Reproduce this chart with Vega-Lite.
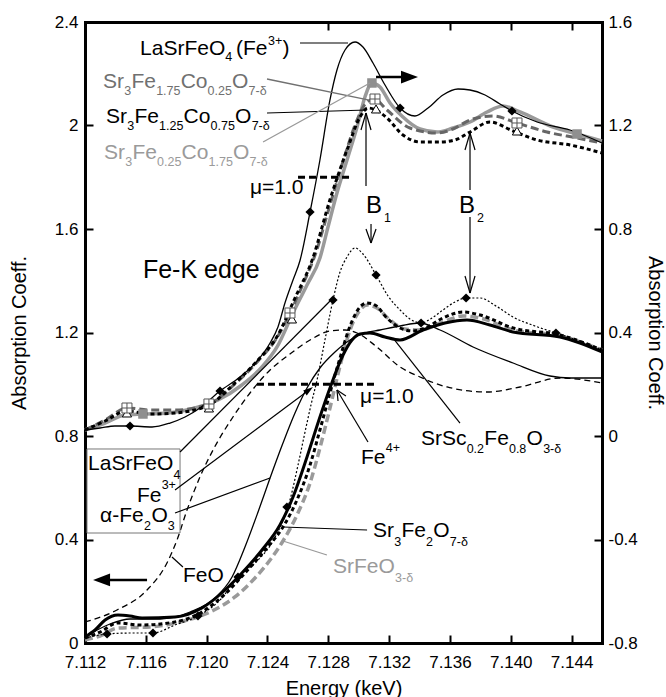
{
"$schema":"https://vega.github.io/schema/vega-lite/v6.json",
"width":517,"height":621,"autosize":"none",
"padding":{"left":85,"top":22,"right":64,"bottom":54},
"config":{"view":{"stroke":null},"font":"Liberation Sans","text":{"font":"Liberation Sans"}},
"datasets":{
"ula":[{"x":7.112,"y":0.8232},{"x":7.11299,"y":0.8309},{"x":7.11397,"y":0.8386},{"x":7.11496,"y":0.8386},{"x":7.11641,"y":0.8348},{"x":7.11759,"y":0.8502},{"x":7.11858,"y":0.8734},{"x":7.11956,"y":0.9082},{"x":7.12088,"y":0.9739},{"x":7.12219,"y":1.028},{"x":7.12338,"y":1.0937},{"x":7.12417,"y":1.1594},{"x":7.12469,"y":1.2213},{"x":7.12515,"y":1.314},{"x":7.12568,"y":1.4029},{"x":7.12614,"y":1.4783},{"x":7.1268,"y":1.6657},{"x":7.12745,"y":1.8667},{"x":7.12811,"y":2.0986},{"x":7.12857,"y":2.2145},{"x":7.1291,"y":2.2918},{"x":7.12976,"y":2.3227},{"x":7.13028,"y":2.3034},{"x":7.13094,"y":2.2415},{"x":7.13173,"y":2.1565},{"x":7.13272,"y":2.0676},{"x":7.1337,"y":2.0367},{"x":7.13456,"y":2.0676},{"x":7.13554,"y":2.1179},{"x":7.13653,"y":2.1411},{"x":7.13732,"y":2.1372},{"x":7.13831,"y":2.1179},{"x":7.13929,"y":2.0831},{"x":7.14008,"y":2.056},{"x":7.14173,"y":2.0135},{"x":7.1439,"y":1.9826},{"x":7.146,"y":1.9324}],
"ugs":[{"x":7.112,"y":0.8232},{"x":7.11332,"y":0.8502},{"x":7.11463,"y":0.8812},{"x":7.11581,"y":0.885},{"x":7.11746,"y":0.8889},{"x":7.11923,"y":0.9082},{"x":7.12075,"y":0.9391},{"x":7.12232,"y":0.9971},{"x":7.12364,"y":1.0667},{"x":7.12463,"y":1.144},{"x":7.12568,"y":1.2754},{"x":7.1266,"y":1.3836},{"x":7.12745,"y":1.4879},{"x":7.12798,"y":1.6077},{"x":7.12857,"y":1.7391},{"x":7.12923,"y":1.8667},{"x":7.12989,"y":1.9942},{"x":7.13041,"y":2.1101},{"x":7.13087,"y":2.1643},{"x":7.1314,"y":2.1488},{"x":7.13206,"y":2.087},{"x":7.13291,"y":2.0329},{"x":7.13403,"y":1.9865},{"x":7.13515,"y":1.9749},{"x":7.1362,"y":1.9903},{"x":7.13732,"y":2.0135},{"x":7.13844,"y":2.0522},{"x":7.13949,"y":2.0754},{"x":7.14061,"y":2.0522},{"x":7.14278,"y":1.9942},{"x":7.14436,"y":1.9671},{"x":7.146,"y":1.9401}],
"ugd":[{"x":7.112,"y":0.8232},{"x":7.11332,"y":0.8618},{"x":7.11476,"y":0.9082},{"x":7.11627,"y":0.9005},{"x":7.11792,"y":0.9005},{"x":7.12015,"y":0.9237},{"x":7.12186,"y":1.001},{"x":7.12338,"y":1.0899},{"x":7.12469,"y":1.1865},{"x":7.12548,"y":1.2754},{"x":7.12634,"y":1.3874},{"x":7.12713,"y":1.4995},{"x":7.12811,"y":1.6928},{"x":7.1291,"y":1.886},{"x":7.12989,"y":2.0213},{"x":7.13048,"y":2.087},{"x":7.13101,"y":2.1024},{"x":7.13186,"y":2.0599},{"x":7.13337,"y":1.9903},{"x":7.13515,"y":1.971},{"x":7.1362,"y":1.9865},{"x":7.13732,"y":2.0213},{"x":7.13883,"y":2.0367},{"x":7.14041,"y":2.0097},{"x":7.14238,"y":1.9749},{"x":7.14436,"y":1.9517},{"x":7.146,"y":1.9324}],
"ubd":[{"x":7.112,"y":0.8232},{"x":7.11332,"y":0.858},{"x":7.11476,"y":0.8966},{"x":7.11627,"y":0.885},{"x":7.11792,"y":0.8889},{"x":7.12015,"y":0.9198},{"x":7.12186,"y":1.0048},{"x":7.12338,"y":1.0937},{"x":7.12469,"y":1.1903},{"x":7.12581,"y":1.3333},{"x":7.12693,"y":1.4783},{"x":7.12811,"y":1.713},{"x":7.12923,"y":1.9053},{"x":7.13009,"y":2.0329},{"x":7.13061,"y":2.0676},{"x":7.13114,"y":2.0599},{"x":7.13186,"y":2.029},{"x":7.13291,"y":1.9633},{"x":7.13403,"y":1.9362},{"x":7.13535,"y":1.9362},{"x":7.13633,"y":1.944},{"x":7.13732,"y":1.9749},{"x":7.13863,"y":2.0135},{"x":7.14015,"y":1.9787},{"x":7.14173,"y":1.944},{"x":7.1439,"y":1.9246},{"x":7.146,"y":1.8937}],
"lla":[{"x":7.112,"y":0.0193},{"x":7.11345,"y":0.0348},{"x":7.11496,"y":0.0386},{"x":7.11647,"y":0.0386},{"x":7.11792,"y":0.0696},{"x":7.11943,"y":0.1043},{"x":7.12088,"y":0.1662},{"x":7.12206,"y":0.2551},{"x":7.12318,"y":0.3092},{"x":7.12436,"y":0.3942},{"x":7.12548,"y":0.5527},{"x":7.12601,"y":0.6879},{"x":7.12647,"y":0.8155},{"x":7.12686,"y":0.9198},{"x":7.12726,"y":1.0164},{"x":7.12778,"y":1.171},{"x":7.12831,"y":1.3256},{"x":7.12877,"y":1.4338},{"x":7.12923,"y":1.4918},{"x":7.12976,"y":1.5266},{"x":7.13028,"y":1.5034},{"x":7.13114,"y":1.4222},{"x":7.13193,"y":1.3411},{"x":7.13272,"y":1.287},{"x":7.13337,"y":1.2522},{"x":7.1341,"y":1.2367},{"x":7.13482,"y":1.256},{"x":7.13554,"y":1.287},{"x":7.13633,"y":1.3179},{"x":7.13706,"y":1.3333},{"x":7.13798,"y":1.3333},{"x":7.13903,"y":1.3024},{"x":7.14015,"y":1.2599},{"x":7.14159,"y":1.2251},{"x":7.14297,"y":1.1981},{"x":7.14455,"y":1.1671},{"x":7.146,"y":1.1324}],
"lfe":[{"x":7.112,"y":0.0232},{"x":7.11364,"y":0.0734},{"x":7.11496,"y":0.0928},{"x":7.11693,"y":0.0928},{"x":7.11891,"y":0.1198},{"x":7.12055,"y":0.1739},{"x":7.12167,"y":0.2551},{"x":7.12252,"y":0.371},{"x":7.12338,"y":0.5063},{"x":7.12417,"y":0.6377},{"x":7.12502,"y":0.7729},{"x":7.12581,"y":0.8889},{"x":7.1266,"y":0.9855},{"x":7.12745,"y":1.0628},{"x":7.12844,"y":1.1246},{"x":7.12943,"y":1.171},{"x":7.13041,"y":1.1981},{"x":7.1314,"y":1.2097},{"x":7.13272,"y":1.2251},{"x":7.13403,"y":1.2367},{"x":7.13535,"y":1.2097},{"x":7.13752,"y":1.144},{"x":7.14015,"y":1.0821},{"x":7.14258,"y":1.0319},{"x":7.1439,"y":1.0242},{"x":7.146,"y":1.0242}],
"lfeo":[{"x":7.112,"y":0.0812},{"x":7.1141,"y":0.1275},{"x":7.11608,"y":0.2048},{"x":7.11739,"y":0.3092},{"x":7.11805,"y":0.3981},{"x":7.11871,"y":0.514},{"x":7.11956,"y":0.6415},{"x":7.12042,"y":0.7459},{"x":7.12173,"y":0.8734},{"x":7.12285,"y":0.9662},{"x":7.12417,"y":1.0551},{"x":7.12548,"y":1.1169},{"x":7.1268,"y":1.171},{"x":7.12811,"y":1.2058},{"x":7.1291,"y":1.2097},{"x":7.12989,"y":1.1981},{"x":7.1312,"y":1.144},{"x":7.13272,"y":1.0667},{"x":7.13403,"y":1.028},{"x":7.13581,"y":0.9894},{"x":7.13844,"y":0.97},{"x":7.14061,"y":0.9894},{"x":7.14324,"y":1.0242},{"x":7.146,"y":1.0048}],
"lsc":[{"x":7.112,"y":0.0232},{"x":7.11266,"y":0.0502},{"x":7.11332,"y":0.0889},{"x":7.11417,"y":0.1082},{"x":7.11496,"y":0.1043},{"x":7.11575,"y":0.0966},{"x":7.11792,"y":0.1005},{"x":7.11969,"y":0.1353},{"x":7.12121,"y":0.2048},{"x":7.12232,"y":0.2705},{"x":7.12364,"y":0.3594},{"x":7.12482,"y":0.456},{"x":7.12568,"y":0.5643},{"x":7.1266,"y":0.7188},{"x":7.12745,"y":0.8734},{"x":7.12811,"y":0.9855},{"x":7.12897,"y":1.113},{"x":7.12956,"y":1.171},{"x":7.13009,"y":1.1942},{"x":7.13074,"y":1.1981},{"x":7.13173,"y":1.1826},{"x":7.13272,"y":1.171},{"x":7.13423,"y":1.2097},{"x":7.13567,"y":1.2367},{"x":7.13712,"y":1.2483},{"x":7.13863,"y":1.229},{"x":7.14015,"y":1.2019},{"x":7.14324,"y":1.1826},{"x":7.14455,"y":1.1594},{"x":7.146,"y":1.1246}],
"l327":[{"x":7.112,"y":0.0193},{"x":7.11299,"y":0.0425},{"x":7.11417,"y":0.0773},{"x":7.11562,"y":0.0696},{"x":7.11792,"y":0.0812},{"x":7.11969,"y":0.1198},{"x":7.12121,"y":0.1894},{"x":7.12252,"y":0.2705},{"x":7.12384,"y":0.3594},{"x":7.12502,"y":0.4483},{"x":7.12594,"y":0.5527},{"x":7.1268,"y":0.6879},{"x":7.12745,"y":0.8232},{"x":7.12811,"y":0.9662},{"x":7.12877,"y":1.1014},{"x":7.12943,"y":1.2251},{"x":7.13009,"y":1.2986},{"x":7.13055,"y":1.314},{"x":7.13107,"y":1.3063},{"x":7.13186,"y":1.256},{"x":7.13272,"y":1.2174},{"x":7.13357,"y":1.2058},{"x":7.13436,"y":1.2174},{"x":7.13567,"y":1.2599},{"x":7.13686,"y":1.2792},{"x":7.13798,"y":1.2676},{"x":7.14015,"y":1.2174},{"x":7.14324,"y":1.1903},{"x":7.146,"y":1.1324}],
"lsr":[{"x":7.112,"y":0.0116},{"x":7.11299,"y":0.0271},{"x":7.11417,"y":0.058},{"x":7.11627,"y":0.0618},{"x":7.11825,"y":0.0812},{"x":7.12022,"y":0.1198},{"x":7.12186,"y":0.1778},{"x":7.12318,"y":0.2512},{"x":7.12417,"y":0.3208},{"x":7.12502,"y":0.3942},{"x":7.12594,"y":0.4947},{"x":7.1268,"y":0.6184},{"x":7.12745,"y":0.7536},{"x":7.12811,"y":0.9082},{"x":7.12877,"y":1.0705},{"x":7.12943,"y":1.2097},{"x":7.13009,"y":1.287},{"x":7.13055,"y":1.3063},{"x":7.1312,"y":1.2947},{"x":7.13206,"y":1.2483},{"x":7.13304,"y":1.2135},{"x":7.13403,"y":1.2097},{"x":7.13567,"y":1.2444},{"x":7.13686,"y":1.2638},{"x":7.13798,"y":1.256},{"x":7.14015,"y":1.2097},{"x":7.14324,"y":1.1865},{"x":7.146,"y":1.1324}],
"mk":[{"k":"dia","x":7.11496,"y":0.8386},{"k":"dia","x":7.12088,"y":0.9739},{"k":"dia","x":7.1268,"y":1.6657},{"k":"dia","x":7.13272,"y":2.0676},{"k":"dia","x":7.14008,"y":2.056},
{"k":"dia","x":7.11345,"y":0.0348},{"k":"dia","x":7.11647,"y":0.0386},{"k":"dia","x":7.11943,"y":0.1043},{"k":"dia","x":7.12206,"y":0.2551},{"k":"dia","x":7.12528,"y":0.5256},{"k":"dia","x":7.12831,"y":1.3256},{"k":"dia","x":7.13114,"y":1.4222},{"k":"dia","x":7.1341,"y":1.2367},{"k":"dia","x":7.13706,"y":1.3333},{"k":"dia","x":7.14297,"y":1.1981},
{"k":"sq","x":7.11581,"y":0.885},{"k":"sq","x":7.13087,"y":2.1643},{"k":"sq","x":7.14436,"y":1.9671},
{"k":"tri","x":7.11476,"y":0.8889},{"k":"tri","x":7.12015,"y":0.9082},{"k":"tri","x":7.12561,"y":1.2522},{"k":"tri","x":7.13114,"y":2.0638},{"k":"tri","x":7.14041,"y":1.9787},
{"k":"grid","x":7.11476,"y":0.9082},{"k":"grid","x":7.12015,"y":0.9237},{"k":"grid","x":7.12548,"y":1.2754},{"k":"grid","x":7.13107,"y":2.1024},{"k":"grid","x":7.14041,"y":2.0097}],
"rl":[{"k":"bk","x":7.12614,"y":2.3188,"x2":7.1293,"y2":2.3188},
{"k":"bk","x":7.12397,"y":2.0483,"x2":7.13055,"y2":2.0599},
{"k":"bk","x":7.11825,"y":0.7382,"x2":7.12831,"y2":1.3333},
{"k":"bk","x":7.11792,"y":0.5913,"x2":7.12647,"y2":0.9662},
{"k":"bk","x":7.11792,"y":0.5024,"x2":7.12417,"y2":0.6377},
{"k":"bk","x":7.11772,"y":0.3324,"x2":7.11844,"y2":0.2937},
{"k":"bk","x":7.13061,"y":0.7768,"x2":7.12857,"y2":0.9778},
{"k":"bk","x":7.12857,"y":0.9778,"x2":7.12864,"y2":0.9353},
{"k":"bk","x":7.12857,"y":0.9778,"x2":7.12916,"y2":0.9546},
{"k":"bk","x":7.13666,"y":0.8502,"x2":7.13226,"y2":1.1787},
{"k":"bk","x":7.13055,"y":0.4367,"x2":7.12502,"y2":0.4483},
{"k":"bk","x":7.13048,"y":1.7662,"x2":7.13048,"y2":2.0483},
{"k":"bk","x":7.13048,"y":2.0483,"x2":7.13015,"y2":1.9826},
{"k":"bk","x":7.13048,"y":2.0483,"x2":7.13081,"y2":1.9826},
{"k":"bk","x":7.13081,"y":1.6193,"x2":7.13081,"y2":1.5459},
{"k":"bk","x":7.13048,"y":1.6,"x2":7.13081,"y2":1.5459},
{"k":"bk","x":7.13114,"y":1.6,"x2":7.13081,"y2":1.5459},
{"k":"bk","x":7.13732,"y":1.7507,"x2":7.13732,"y2":1.971},
{"k":"bk","x":7.13732,"y":1.971,"x2":7.13699,"y2":1.9053},
{"k":"bk","x":7.13732,"y":1.971,"x2":7.13765,"y2":1.9053},
{"k":"bk","x":7.13732,"y":1.6464,"x2":7.13732,"y2":1.3527},
{"k":"bk","x":7.13699,"y":1.4184,"x2":7.13732,"y2":1.3527},
{"k":"bk","x":7.13765,"y":1.4184,"x2":7.13732,"y2":1.3527},
{"k":"g1","x":7.12397,"y":2.1797,"x2":7.13061,"y2":2.0986},
{"k":"g2","x":7.12371,"y":1.9362,"x2":7.13074,"y2":2.1643},
{"k":"g2","x":7.12791,"y":0.3401,"x2":7.12502,"y2":0.3942},
{"k":"mu","x":7.12601,"y":1.8,"x2":7.12956,"y2":1.8},
{"k":"mu","x":7.12331,"y":1.0,"x2":7.1312,"y2":1.0},
{"k":"arr","x":7.13114,"y":2.1874,"x2":7.13304,"y2":2.1874},
{"k":"arr","x":7.11332,"y":0.2435,"x2":7.11608,"y2":0.2435}],
"hd":[{"k":"r","x":7.13334,"y":2.1874},{"k":"l","x":7.11309,"y":0.2435},{"k":"f","x":7.12673,"y":0.9778}],
"bx":[{"x":7.11213,"y":0.7498,"x2":7.11825,"y2":0.4251}],
"tx":[{"k":"m","x":7.11562,"y":2.2725,"t":"LaSrFeO"},{"k":"m","x":7.12193,"y":2.2725,"t":"(Fe"},{"k":"m","x":7.12499,"y":2.2725,"t":")"},
{"k":"m","x":7.11338,"y":2.0097,"t":"Sr"},{"k":"m","x":7.11525,"y":2.0097,"t":"Fe"},{"k":"m","x":7.11848,"y":2.0097,"t":"Co"},{"k":"m","x":7.12187,"y":2.0097,"t":"O"},
{"k":"m","x":7.1122,"y":0.6686,"t":"LaSrFeO"},{"k":"m","x":7.11542,"y":0.5449,"t":"Fe"},{"k":"m","x":7.11299,"y":0.4676,"t":"α-Fe"},{"k":"m","x":7.11637,"y":0.4676,"t":"O"},
{"k":"m","x":7.11844,"y":0.2357,"t":"FeO"},{"k":"m","x":7.13015,"y":0.6918,"t":"Fe"},
{"k":"m","x":7.1341,"y":0.7652,"t":"SrSc"},{"k":"m","x":7.13826,"y":0.7652,"t":"Fe"},{"k":"m","x":7.14104,"y":0.7652,"t":"O"},
{"k":"m","x":7.13094,"y":0.4097,"t":"Sr"},{"k":"m","x":7.13281,"y":0.4097,"t":"Fe"},{"k":"m","x":7.13491,"y":0.4097,"t":"O"},
{"k":"m","x":7.12285,"y":1.7353,"t":"μ=1.0"},{"k":"m","x":7.13009,"y":0.9275,"t":"μ=1.0"},
{"k":"s","x":7.12123,"y":2.2493,"t":"4"},{"k":"s","x":7.12403,"y":2.3111,"t":"3+"},
{"k":"s","x":7.11478,"y":1.9826,"t":"3"},{"k":"s","x":7.11687,"y":1.9826,"t":"1.25"},{"k":"s","x":7.12026,"y":1.9826,"t":"0.75"},{"k":"s","x":7.12296,"y":1.9826,"t":"7-δ"},
{"k":"s","x":7.11782,"y":0.6338,"t":"4"},{"k":"s","x":7.11704,"y":0.5952,"t":"3+"},{"k":"s","x":7.11588,"y":0.4367,"t":"2"},{"k":"s","x":7.11745,"y":0.4367,"t":"3"},
{"k":"s","x":7.13178,"y":0.7382,"t":"4+"},
{"k":"s","x":7.1371,"y":0.7343,"t":"0.2"},{"k":"s","x":7.13988,"y":0.7343,"t":"0.8"},{"k":"s","x":7.14213,"y":0.7343,"t":"3-δ"},
{"k":"s","x":7.13233,"y":0.3749,"t":"3"},{"k":"s","x":7.13443,"y":0.3749,"t":"2"},{"k":"s","x":7.13599,"y":0.3749,"t":"7-δ"},
{"k":"s","x":7.13166,"y":1.6271,"t":"1"},{"k":"s","x":7.13778,"y":1.6271,"t":"2"},
{"k":"g1m","x":7.11318,"y":2.1449,"t":"Sr"},{"k":"g1m","x":7.11505,"y":2.1449,"t":"Fe"},{"k":"g1m","x":7.11829,"y":2.1449,"t":"Co"},{"k":"g1m","x":7.12167,"y":2.1449,"t":"O"},
{"k":"g1s","x":7.11458,"y":2.1179,"t":"3"},{"k":"g1s","x":7.11668,"y":2.1179,"t":"1.75"},{"k":"g1s","x":7.12006,"y":2.1179,"t":"0.25"},{"k":"g1s","x":7.12276,"y":2.1179,"t":"7-δ"},
{"k":"g2m","x":7.11325,"y":1.8705,"t":"Sr"},{"k":"g2m","x":7.11512,"y":1.8705,"t":"Fe"},{"k":"g2m","x":7.11835,"y":1.8705,"t":"Co"},{"k":"g2m","x":7.12174,"y":1.8705,"t":"O"},{"k":"g2m","x":7.12831,"y":0.2705,"t":"SrFeO"},
{"k":"g2s","x":7.11464,"y":1.8435,"t":"3"},{"k":"g2s","x":7.11674,"y":1.8435,"t":"0.25"},{"k":"g2s","x":7.12013,"y":1.8435,"t":"1.75"},{"k":"g2s","x":7.12282,"y":1.8435,"t":"7-δ"},{"k":"g2s","x":7.13239,"y":0.2357,"t":"3-δ"},
{"k":"big","x":7.11581,"y":1.4106,"t":"Fe-K edge"},
{"k":"b","x":7.13048,"y":1.6618,"t":"B"},{"k":"b","x":7.13659,"y":1.6618,"t":"B"}]
},
"layer":[
{"encoding":{
"x":{"field":"x","type":"quantitative","scale":{"domain":[7.112,7.146],"nice":false,"zero":false},"axis":{"orient":"bottom","values":[7.112,7.116,7.12,7.124,7.128,7.132,7.136,7.14,7.144],"format":".3f","title":"Energy (keV)","grid":false,"labelFlush":false,"labelOverlap":false,"labelFontSize":17,"labelFont":"Liberation Sans","labelColor":"black","labelPadding":19,"tickSize":-8,"tickWidth":2,"tickColor":"black","domainWidth":3,"domainColor":"black","domainCap":"square","titleFontSize":20,"titleFont":"Liberation Sans","titleFontWeight":"normal","titleColor":"black","titleY":45,"titleBaseline":"middle"}},
"y":{"field":"y","type":"quantitative","scale":{"domain":[0,2.4],"nice":false,"zero":false},"axis":{"orient":"left","values":[0,0.4,0.8,1.2,1.6,2,2.4],"format":"~g","title":"Absorption Coeff.","grid":false,"labelFlush":false,"labelOverlap":false,"labelFontSize":17,"labelFont":"Liberation Sans","labelColor":"black","labelPadding":15,"tickSize":-8,"tickWidth":2,"tickColor":"black","domainWidth":3,"domainColor":"black","domainCap":"square","titleFontSize":20,"titleFont":"Liberation Sans","titleFontWeight":"normal","titleColor":"black","titleX":-66,"titleBaseline":"middle"}}},
"layer":[
{"data":{"name":"lsr"},"mark":{"type":"line","color":"#9a9a9a","strokeWidth":3.5,"strokeDash":[8,4],"interpolate":"monotone"},"encoding":{}},
{"data":{"name":"l327"},"mark":{"type":"line","color":"black","strokeWidth":3,"strokeDash":[4,3],"interpolate":"monotone"},"encoding":{}},
{"data":{"name":"lsc"},"mark":{"type":"line","color":"black","strokeWidth":3,"interpolate":"monotone"},"encoding":{}},
{"data":{"name":"lla"},"mark":{"type":"line","color":"black","strokeWidth":1.2,"strokeDash":[2,2],"interpolate":"monotone"},"encoding":{}},
{"data":{"name":"lfe"},"mark":{"type":"line","color":"black","strokeWidth":1.3,"interpolate":"monotone"},"encoding":{}},
{"data":{"name":"lfeo"},"mark":{"type":"line","color":"black","strokeWidth":1.3,"strokeDash":[6,4],"interpolate":"monotone"},"encoding":{}},
{"data":{"name":"ugs"},"mark":{"type":"line","color":"#9a9a9a","strokeWidth":3.5,"interpolate":"monotone"},"encoding":{}},
{"data":{"name":"ugd"},"mark":{"type":"line","color":"#666666","strokeWidth":3,"strokeDash":[8,4],"interpolate":"monotone"},"encoding":{}},
{"data":{"name":"ubd"},"mark":{"type":"line","color":"black","strokeWidth":3,"strokeDash":[4,3],"interpolate":"monotone"},"encoding":{}},
{"data":{"name":"ula"},"mark":{"type":"line","color":"black","strokeWidth":1.3,"interpolate":"monotone"},"encoding":{}},
{"data":{"name":"mk"},"transform":[{"filter":"datum.k==='dia'"}],"mark":{"type":"point","shape":"diamond","filled":true,"color":"black","size":85,"opacity":1},"encoding":{}},
{"data":{"name":"mk"},"transform":[{"filter":"datum.k==='sq'"}],"mark":{"type":"point","shape":"square","filled":true,"color":"#8f8f8f","size":90,"opacity":1},"encoding":{}},
{"data":{"name":"mk"},"transform":[{"filter":"datum.k==='tri'"}],"mark":{"type":"point","shape":"triangle-up","filled":true,"fill":"white","stroke":"black","strokeWidth":1,"size":85,"opacity":1},"encoding":{}},
{"data":{"name":"mk"},"transform":[{"filter":"datum.k==='grid'"}],"mark":{"type":"point","shape":"M-1,-1H1V1H-1Z M0,-1V1 M-1,0H1","filled":true,"fill":"white","stroke":"#555555","strokeWidth":1,"size":100,"opacity":1},"encoding":{}},
{"data":{"name":"bx"},"mark":{"type":"rect","fill":"white","fillOpacity":0,"stroke":"#777777","strokeWidth":1},"encoding":{"x2":{"field":"x2"},"y2":{"field":"y2"}}},
{"data":{"name":"rl"},"transform":[{"filter":"datum.k==='bk'"}],"mark":{"type":"rule","color":"black","strokeWidth":1.2},"encoding":{"x2":{"field":"x2"},"y2":{"field":"y2"}}},
{"data":{"name":"rl"},"transform":[{"filter":"datum.k==='g1'"}],"mark":{"type":"rule","color":"#707070","strokeWidth":1.3},"encoding":{"x2":{"field":"x2"},"y2":{"field":"y2"}}},
{"data":{"name":"rl"},"transform":[{"filter":"datum.k==='g2'"}],"mark":{"type":"rule","color":"#999999","strokeWidth":1.3},"encoding":{"x2":{"field":"x2"},"y2":{"field":"y2"}}},
{"data":{"name":"rl"},"transform":[{"filter":"datum.k==='mu'"}],"mark":{"type":"rule","color":"black","strokeWidth":3,"strokeDash":[7,4]},"encoding":{"x2":{"field":"x2"},"y2":{"field":"y2"}}},
{"data":{"name":"rl"},"transform":[{"filter":"datum.k==='arr'"}],"mark":{"type":"rule","color":"black","strokeWidth":2.5},"encoding":{"x2":{"field":"x2"},"y2":{"field":"y2"}}},
{"data":{"name":"hd"},"transform":[{"filter":"datum.k==='r'"}],"mark":{"type":"point","shape":"M1,0L-1,-0.75L-1,0.75Z","filled":true,"color":"black","size":289,"opacity":1},"encoding":{}},
{"data":{"name":"hd"},"transform":[{"filter":"datum.k==='l'"}],"mark":{"type":"point","shape":"M-1,0L1,-0.75L1,0.75Z","filled":true,"color":"black","size":289,"opacity":1},"encoding":{}},
{"data":{"name":"hd"},"transform":[{"filter":"datum.k==='f'"}],"mark":{"type":"point","shape":"M1,0L-1,-0.6L-1,0.6Z","filled":true,"color":"black","size":100,"angle":-36.5,"opacity":1},"encoding":{}},
{"data":{"name":"tx"},"transform":[{"filter":"datum.k==='m'"}],"mark":{"type":"text","align":"left","baseline":"alphabetic","fontSize":21,"color":"black"},"encoding":{"text":{"field":"t"}}},
{"data":{"name":"tx"},"transform":[{"filter":"datum.k==='s'"}],"mark":{"type":"text","align":"left","baseline":"alphabetic","fontSize":12.5,"color":"black"},"encoding":{"text":{"field":"t"}}},
{"data":{"name":"tx"},"transform":[{"filter":"datum.k==='g1m'"}],"mark":{"type":"text","align":"left","baseline":"alphabetic","fontSize":21,"color":"#707070"},"encoding":{"text":{"field":"t"}}},
{"data":{"name":"tx"},"transform":[{"filter":"datum.k==='g1s'"}],"mark":{"type":"text","align":"left","baseline":"alphabetic","fontSize":12.5,"color":"#707070"},"encoding":{"text":{"field":"t"}}},
{"data":{"name":"tx"},"transform":[{"filter":"datum.k==='g2m'"}],"mark":{"type":"text","align":"left","baseline":"alphabetic","fontSize":21,"color":"#9a9a9a"},"encoding":{"text":{"field":"t"}}},
{"data":{"name":"tx"},"transform":[{"filter":"datum.k==='g2s'"}],"mark":{"type":"text","align":"left","baseline":"alphabetic","fontSize":12.5,"color":"#9a9a9a"},"encoding":{"text":{"field":"t"}}},
{"data":{"name":"tx"},"transform":[{"filter":"datum.k==='big'"}],"mark":{"type":"text","align":"left","baseline":"alphabetic","fontSize":25,"color":"black"},"encoding":{"text":{"field":"t"}}},
{"data":{"name":"tx"},"transform":[{"filter":"datum.k==='b'"}],"mark":{"type":"text","align":"left","baseline":"alphabetic","fontSize":24,"color":"black"},"encoding":{"text":{"field":"t"}}}
]},
{"data":{"values":[{"x":7.13,"y":1}]},"mark":{"type":"point","opacity":0},"encoding":{
"x":{"field":"x","type":"quantitative","scale":{"domain":[7.112,7.146],"nice":false,"zero":false},"axis":{"orient":"top","values":[7.128,7.132,7.136,7.14,7.144],"labels":false,"title":null,"grid":false,"tickSize":-8,"tickWidth":2,"tickColor":"black","domainWidth":3,"domainColor":"black","domainCap":"square"}},
"y":{"field":"y","type":"quantitative","scale":{"domain":[0,2.4],"nice":false,"zero":false},"axis":{"orient":"right","values":[0,0.4,0.8,1.2,1.6,2,2.4],"labelExpr":"datum.value < 0.8 ? '-' + format(0.8 - datum.value, '~g') : format(datum.value - 0.8, '~g')","title":"Absorption Coeff.","grid":false,"labelFlush":false,"labelOverlap":false,"labelFontSize":17,"labelFont":"Liberation Sans","labelColor":"black","labelPadding":14,"tickSize":-8,"tickWidth":2,"tickColor":"black","domainWidth":3,"domainColor":"black","domainCap":"square","titleFontSize":20,"titleFont":"Liberation Sans","titleFontWeight":"normal","titleColor":"black","titleX":52,"titleBaseline":"middle"}}}}
],
"resolve":{"axis":{"x":"independent","y":"independent"}}
}
